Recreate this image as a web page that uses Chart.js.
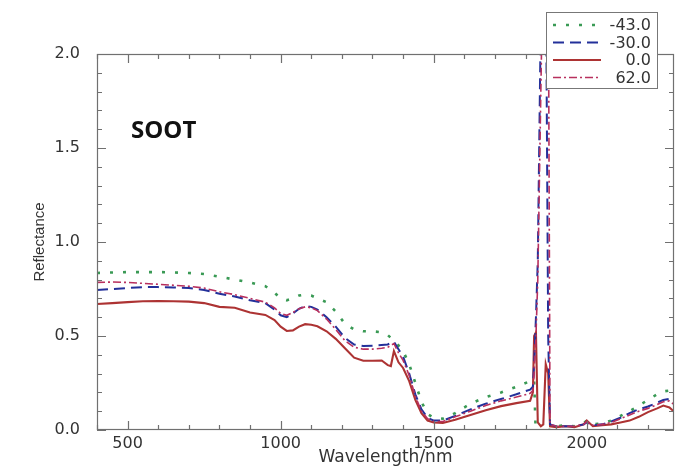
<!DOCTYPE html>
<html>
<head>
<meta charset="utf-8">
<script src="https://cdn.jsdelivr.net/npm/chart.js@4"></script>
<style>
  html, body { margin: 0; padding: 0; background: #fff; }
  #wrap { width: 675px; height: 469px; }
</style>
</head>
<body>
<div id="wrap"><canvas id="myChart" width="675" height="469"></canvas></div>
<script>
const wavelengths = [400, 450, 500, 550, 600, 650, 700, 750, 800, 850, 900, 950, 980, 1000, 1020, 1040, 1060, 1080, 1100, 1120, 1150, 1180, 1210, 1240, 1270, 1300, 1330, 1350, 1360, 1370, 1385, 1400, 1420, 1440, 1460, 1480, 1500, 1530, 1570, 1620, 1670, 1720, 1770, 1815, 1824, 1828, 1834, 1840, 1850, 1858, 1866, 1874, 1880, 1900, 1930, 1960, 1990, 2000, 2020, 2050, 2080, 2110, 2140, 2170, 2200, 2230, 2250, 2270, 2290];

const seriesLabels = ["-43.0", "-30.0", "0.0", "62.0"];

const reflMinus43 = [0.835, 0.838, 0.84, 0.84, 0.84, 0.838, 0.835, 0.83, 0.815, 0.8, 0.785, 0.765, 0.73, 0.7, 0.69, 0.7, 0.715, 0.72, 0.715, 0.7, 0.68, 0.63, 0.565, 0.535, 0.525, 0.525, 0.52, 0.505, 0.49, 0.475, 0.45, 0.42, 0.35, 0.25, 0.15, 0.085, 0.065, 0.06, 0.09, 0.14, 0.175, 0.2, 0.23, 0.26, 0.27, 0.27, -0.05, -0.05, -0.05, -0.05, -0.05, -0.05, 0.01, 0.02, 0.025, 0.02, 0.035, 0.05, 0.03, 0.035, 0.05, 0.075, 0.1, 0.13, 0.16, 0.19, 0.205, 0.21, 0.2];

const reflMinus30 = [0.745, 0.75, 0.755, 0.76, 0.76, 0.758, 0.755, 0.745, 0.725, 0.71, 0.69, 0.675, 0.64, 0.61, 0.6, 0.62, 0.645, 0.66, 0.655, 0.64, 0.6, 0.55, 0.49, 0.455, 0.447, 0.448, 0.452, 0.455, 0.465, 0.47, 0.43, 0.39, 0.3, 0.19, 0.11, 0.065, 0.05, 0.05, 0.075, 0.11, 0.14, 0.165, 0.19, 0.215, 0.23, 0.35, 0.6, 0.9, 2.2, 2.6, 2.6, 0.5, 0.03, 0.02, 0.02, 0.02, 0.03, 0.04, 0.025, 0.03, 0.045, 0.065, 0.09, 0.11, 0.125, 0.145, 0.16, 0.165, 0.14];

const refl0 = [0.67, 0.675, 0.68, 0.685, 0.686, 0.685, 0.683, 0.675, 0.655, 0.65, 0.625, 0.612, 0.585, 0.55, 0.527, 0.53, 0.55, 0.563, 0.56, 0.552, 0.525, 0.485, 0.435, 0.385, 0.368, 0.368, 0.37, 0.345, 0.34, 0.42, 0.36, 0.33, 0.26, 0.16, 0.09, 0.05, 0.04, 0.037, 0.055, 0.08, 0.105, 0.127, 0.143, 0.155, 0.2, 0.5, 0.52, 0.04, 0.02, 0.03, 0.35, 0.3, 0.02, 0.015, 0.02, 0.015, 0.03, 0.05, 0.02, 0.025, 0.03, 0.04, 0.05, 0.07, 0.095, 0.115, 0.13, 0.12, 0.09];

const refl62 = [0.785, 0.787, 0.785, 0.78, 0.775, 0.77, 0.765, 0.755, 0.735, 0.72, 0.7, 0.68, 0.65, 0.62, 0.61, 0.625, 0.645, 0.655, 0.65, 0.635, 0.59, 0.535, 0.475, 0.44, 0.43, 0.43, 0.435, 0.44, 0.45, 0.46, 0.41, 0.37, 0.29, 0.18, 0.1, 0.06, 0.045, 0.045, 0.07, 0.1, 0.13, 0.155, 0.175, 0.195, 0.21, 0.3, 0.5, 0.8, 1.8, 2.6, 2.6, 2.6, 0.03, 0.02, 0.02, 0.02, 0.03, 0.045, 0.025, 0.03, 0.04, 0.06, 0.08, 0.1, 0.115, 0.135, 0.15, 0.155, 0.13];

const xTickValues = [500, 1000, 1500, 2000];

function pts(vals) {
  return wavelengths.map((w, i) => ({ x: w, y: vals[i] }));
}

// frame, inward tick marks, legend box and the SOOT label
const decorations = {
  id: "decorations",
  afterDraw(chart) {
    const ctx = chart.ctx;
    const a = chart.chartArea;
    const xs = chart.scales.x;
    const ys = chart.scales.y;
    ctx.save();
    ctx.strokeStyle = "#707070";
    ctx.lineWidth = 1.2;
    ctx.strokeRect(a.left + 0.5, a.top + 0.5, a.right - a.left - 1, a.bottom - a.top - 1);

    ctx.beginPath();
    for (let w = 400; w <= 2280; w += 100) {
      const px = Math.round(xs.getPixelForValue(w)) + 0.5;
      const len = w % 500 === 0 ? 9 : 5;
      ctx.moveTo(px, a.bottom); ctx.lineTo(px, a.bottom - len);
      ctx.moveTo(px, a.top); ctx.lineTo(px, a.top + len);
    }
    for (let k = 0; k <= 20; k++) {
      const py = Math.round(ys.getPixelForValue(k / 10)) + 0.5;
      const len = k % 5 === 0 ? 9 : 5;
      ctx.moveTo(a.left, py); ctx.lineTo(a.left + len, py);
      ctx.moveTo(a.right, py); ctx.lineTo(a.right - len, py);
    }
    ctx.stroke();

    // SOOT
    ctx.fillStyle = "#111";
    ctx.font = "bold 24px 'Open Sans'";
    ctx.textAlign = "left";
    ctx.textBaseline = "middle";
    ctx.fillText("SOOT", 131, 131);

    // legend
    const bx = 546, by = 12, bw = 111, bh = 76;
    ctx.fillStyle = "#fff";
    ctx.fillRect(bx, by, bw, bh);
    ctx.strokeStyle = "#777";
    ctx.lineWidth = 1;
    ctx.strokeRect(bx + 0.5, by + 0.5, bw, bh);
    ctx.font = "16px 'DejaVu Sans'";
    ctx.textAlign = "right";
    chart.data.datasets.forEach((ds, i) => {
      const ry = by + 13 + i * 17.5;
      ctx.strokeStyle = ds.borderColor;
      ctx.lineWidth = ds.borderWidth;
      ctx.setLineDash(ds.borderDash || []);
      ctx.beginPath();
      ctx.moveTo(bx + 7, ry); ctx.lineTo(bx + 55, ry);
      ctx.stroke();
      ctx.setLineDash([]);
      ctx.fillStyle = "#333";
      ctx.fillText(ds.label, bx + bw - 6, ry + 1);
    });
    ctx.restore();
  }
};

const ctx = document.getElementById("myChart").getContext("2d");
new Chart(ctx, {
  type: "line",
  data: {
    datasets: [
      { label: seriesLabels[0], data: pts(reflMinus43), borderColor: "#3a9a55", borderWidth: 2.6, borderDash: [3, 10], order: 3 },
      { label: seriesLabels[1], data: pts(reflMinus30), borderColor: "#23309a", borderWidth: 2, borderDash: [11, 6], order: 1 },
      { label: seriesLabels[2], data: pts(refl0), borderColor: "#ad3333", borderWidth: 2.1, order: 2 },
      { label: seriesLabels[3], data: pts(refl62), borderColor: "#b8305e", borderWidth: 1.6, borderDash: [8, 3, 2, 3], order: 0 }
    ]
  },
  options: {
    responsive: false,
    animation: false,
    layout: { padding: { top: 54, right: 1, left: 0, bottom: 0 } },
    elements: { point: { radius: 0 }, line: { tension: 0, fill: false } },
    plugins: { legend: { display: false }, tooltip: { enabled: false } },
    scales: {
      x: {
        type: "linear",
        min: 400,
        max: 2285,
        afterBuildTicks: (s) => { s.ticks = xTickValues.map((v) => ({ value: v })); },
        afterFit: (s) => { s.height = 39; },
        grid: { display: false, drawTicks: false },
        border: { display: false },
        ticks: { padding: 4, maxRotation: 0, color: "#333", font: { family: "DejaVu Sans", size: 16 }, callback: (v) => String(v) },
        title: { display: true, text: "Wavelength/nm", color: "#333", font: { family: "DejaVu Sans", size: 17 }, padding: { top: 0, bottom: 1 } }
      },
      y: {
        min: 0,
        max: 2.0,
        afterFit: (s) => { s.width = 97; },
        grid: { display: false, drawTicks: false },
        border: { display: false },
        ticks: { stepSize: 0.5, padding: 17, color: "#333", font: { family: "DejaVu Sans", size: 16 }, callback: (v) => v.toFixed(1) },
        title: { display: true, text: "Reflectance", color: "#333", font: { family: "Liberation Sans", size: 15 }, padding: { top: 31, bottom: 0 } }
      }
    }
  },
  plugins: [decorations]
});
</script>
</body>
</html>
